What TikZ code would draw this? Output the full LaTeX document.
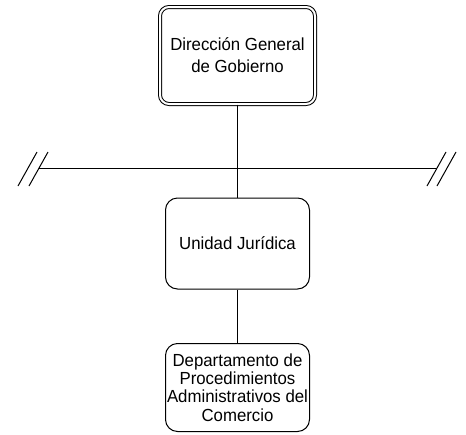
\documentclass[tikz,border=0pt]{standalone}
\usepackage{fontspec}
\setmainfont[FakeStretch=0.96]{Liberation Sans}
\begin{document}
\begin{tikzpicture}[x=1pt,y=-1pt,
  every path/.style={line width=1pt},
  boxtext/.style={align=center,inner sep=0pt},
  unitbox/.style={boxtext,draw,rounded corners=12pt,minimum width=144pt,font=\fontsize{17.5pt}{18.4pt}\selectfont},
  topbox/.style={boxtext,draw,double,double distance=2pt,rounded corners=9pt,minimum width=155pt,minimum height=97pt,font=\fontsize{17.5pt}{22pt}\selectfont},
  cutmark/.style={line width=1pt}]
\useasboundingbox (0,0) rectangle (466,434);
\node[topbox] (dg) at (237.5,55.5) {Dirección General\\de Gobierno};
\node[unitbox,minimum height=91pt] (uj) at (237.5,243.5) {Unidad Jurídica};
\node[unitbox,minimum height=88pt] (dp) at (237.5,387.5) {Departamento de\\Procedimientos\\Administrativos del\\Comercio};
\coordinate (hl) at (39,168);
\coordinate (hr) at (437,168);
\draw (dg) -- (uj);
\draw (uj) -- (dp);
\draw (hl) -- (hr);
\draw[cutmark] (18,186) -- (37,152);
\draw[cutmark] (29,186) -- (48,152);
\draw[cutmark] (427,186) -- (446,152);
\draw[cutmark] (437,186) -- (456,152);
\end{tikzpicture}
\end{document}
